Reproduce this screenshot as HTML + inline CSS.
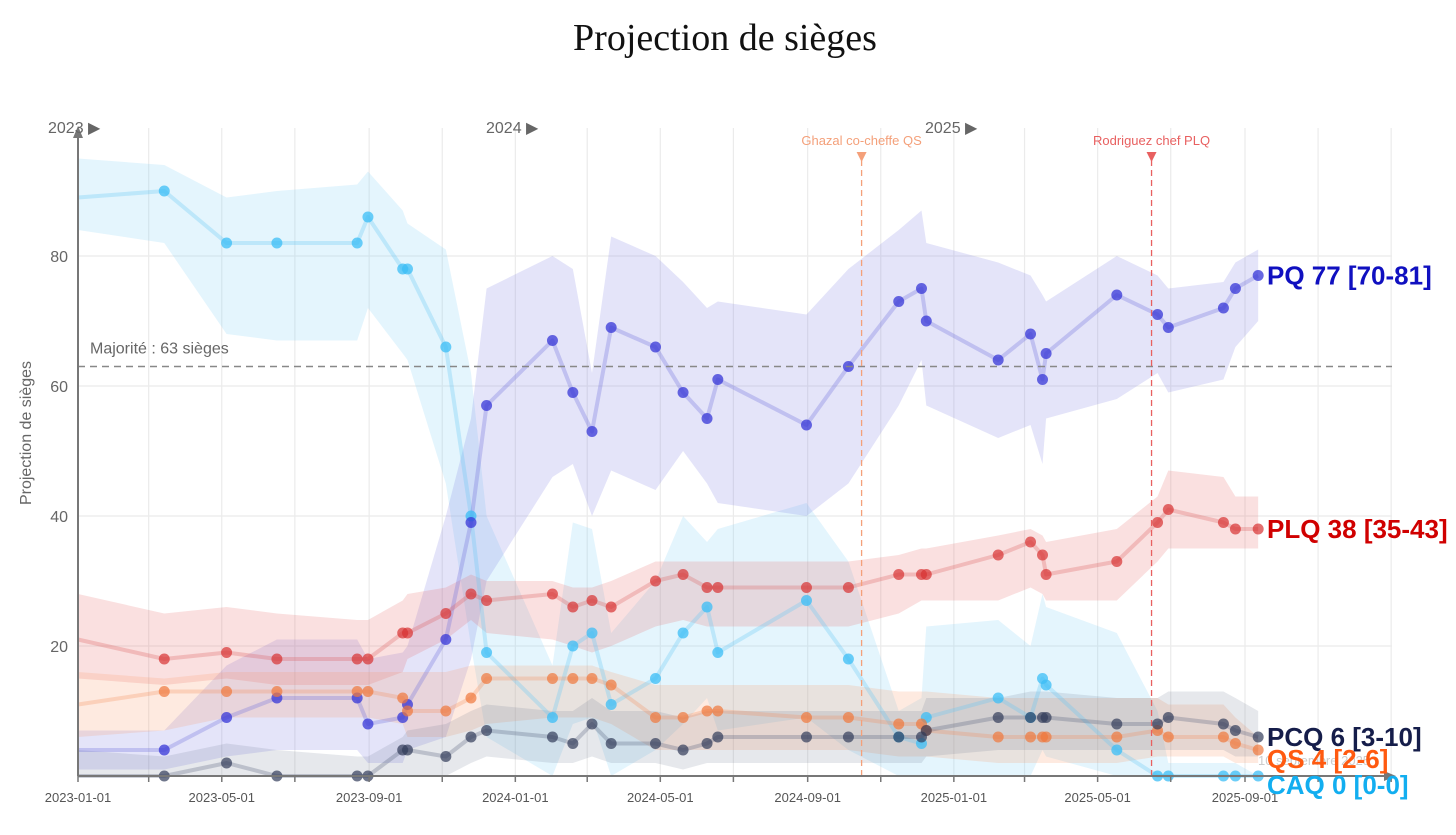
<!DOCTYPE html>
<html><head><meta charset="utf-8"><style>
html,body{margin:0;padding:0;background:#fff;width:1456px;height:835px;overflow:hidden}
svg{display:block;font-family:"Liberation Sans",sans-serif}
</style></head><body>
<svg id="chart" width="1456" height="835">
<text x="725" y="50" text-anchor="middle" font-family="Liberation Serif,serif" font-size="38" fill="#111">Projection de sièges</text>
<g id="grid"></g><g id="bands"></g><g id="lines"></g><g id="axes"></g><g id="labels"></g>
</svg>
<script>
const days=[0,72,124,166,233,242,271,275,307,328,341,396,413,429,445,482,505,525,534,608,643,685,704,708,768,795,805,808,867,901,910,956,966,985];
const pq=[4,4,9,12,12,8,9,11,21,39,57,67,59,53,69,66,59,55,61,54,63,73,75,70,64,68,61,65,74,71,69,72,75,77];
const pqLo=[1,1,3,4,4,2,2,4,6,18,30,46,48,40,47,44,50,45,42,40,45,57,64,57,52,54,48,55,58,62,59,61,66,70];
const pqHi=[7,7,17,21,21,18,19,20,40,55,75,80,78,62,83,80,76,72,73,71,78,84,87,82,79,77,74,73,80,77,75,76,79,81];
const plq=[21,18,19,18,18,18,22,22,25,28,27,28,26,27,26,30,31,29,29,29,29,31,31,31,34,36,34,31,33,39,41,39,38,38];
const plqLo=[15,14,15,14,14,14,16,18,21,24,22,21,20,19,20,23,24,23,23,23,23,25,27,27,27,29,28,27,27,33,35,35,35,35];
const plqHi=[28,25,26,25,24,24,27,28,29,31,30,30,29,29,30,33,33,33,33,33,33,34,35,35,37,38,37,36,38,43,47,46,43,43];
const caq=[89,90,82,82,82,86,78,78,66,40,19,9,20,22,11,15,22,26,19,27,18,6,5,9,12,9,15,14,4,0,0,0,0,0];
const caqLo=[84,82,68,67,67,72,65,64,45,20,6,0,8,9,0,4,8,12,7,9,4,0,0,0,0,0,4,3,0,0,0,0,0,0];
const caqHi=[95,94,89,90,91,93,87,85,81,62,40,17,39,38,22,30,40,36,38,42,33,10,12,23,24,20,28,26,22,10,2,2,2,0];
const qs=[11,13,13,13,13,13,12,10,10,12,15,15,15,15,14,9,9,10,10,9,9,8,8,7,6,6,6,6,6,7,6,6,5,4];
const qsLo=[6,7,9,9,9,9,8,6,6,7,8,9,9,9,8,4,4,4,4,4,4,3,3,3,2,2,2,2,2,3,3,3,2,2];
const qsHi=[16,15,16,16,16,16,16,16,16,17,17,17,17,17,16,14,14,14,14,14,14,13,13,13,12,12,12,12,12,12,11,11,9,6];
const pcq=[0,0,2,0,0,0,4,4,3,6,7,6,5,8,5,5,4,5,6,6,6,6,6,7,9,9,9,9,8,8,9,8,7,6];
const pcqLo=[0,0,0,0,0,0,0,0,0,2,3,2,2,3,2,2,1,2,2,2,2,2,2,3,4,4,4,4,4,4,4,4,3,3];
const pcqHi=[4,3,5,4,3,3,6,7,8,10,11,10,10,12,10,10,9,10,10,10,10,10,10,12,12,13,13,13,12,12,13,13,12,10];
const yTicks=[20,40,60,80];
const majority=63;
const events=[{d:654,label:"Ghazal co-cheffe QS",c:"#f4a07a"},{d:896,label:"Rodriguez chef PLQ",c:"#e86060"}];

const NS="http://www.w3.org/2000/svg";
const X0=78,X1=1245,Y0=776;
const x=d=>X0+d*(X1-X0)/974;
const y=v=>Y0-v*6.5;
function mk(tag,attrs,parent,txt){const e=document.createElementNS(NS,tag);for(const k in attrs)e.setAttribute(k,attrs[k]);if(txt!=null)e.textContent=txt;document.getElementById(parent).appendChild(e);return e;}

const base=new Date(Date.UTC(2023,0,1));
for(let m=0;m<=36;m+=2){const dt=new Date(Date.UTC(2023,m,1));const d=(dt-base)/864e5;const gx=x(d);if(gx>1395)break;
 const g=mk('line',{x1:gx,x2:gx,y1:128,y2:Y0,stroke:'#ebebeb','stroke-width':1.2},'grid');
 
 const t=mk('line',{x1:gx,x2:gx,y1:Y0,y2:Y0+6,stroke:'#777','stroke-width':1.5},'axes');
 
 if(m%4===0 && gx<=X1+2){const lab=`${dt.getUTCFullYear()}-${String(dt.getUTCMonth()+1).padStart(2,'0')}-01`;
  const tl=mk('text',{x:gx,y:802,'text-anchor':'middle','font-size':13,fill:'#555'},'axes',lab);
  }
}
yTicks.forEach(v=>{const g=mk('line',{x1:X0,x2:1392,y1:y(v),y2:y(v),stroke:'#ebebeb','stroke-width':1.2},'grid');
 
 const t=mk('text',{x:68,y:y(v)+6,'text-anchor':'end','font-size':16,fill:'#666'},'axes',v);
 });

const series=[
 {name:'caq',v:caq,lo:caqLo,hi:caqHi,band:'rgba(120,205,245,0.2)',line:'rgba(100,200,245,0.3)',dot:'rgba(60,190,245,0.75)'},
 {name:'pq',v:pq,lo:pqLo,hi:pqHi,band:'rgba(120,120,225,0.2)',line:'rgba(110,110,220,0.3)',dot:'rgba(55,55,215,0.75)'},
 {name:'plq',v:plq,lo:plqLo,hi:plqHi,band:'rgba(230,100,100,0.2)',line:'rgba(220,90,90,0.28)',dot:'rgba(215,50,50,0.7)'},
 {name:'qs',v:qs,lo:qsLo,hi:qsHi,band:'rgba(250,150,100,0.2)',line:'rgba(245,140,90,0.28)',dot:'rgba(240,120,60,0.7)'},
 {name:'pcq',v:pcq,lo:pcqLo,hi:pcqHi,band:'rgba(90,100,130,0.15)',line:'rgba(80,90,120,0.28)',dot:'rgba(50,60,90,0.7)'}];
series.forEach(s=>{
 let p=days.map((d,i)=>`${x(d)},${y(s.hi[i])}`).concat(days.map((d,i)=>`${x(d)},${y(s.lo[i])}`).reverse());
 const b=mk('polygon',{points:p.join(' '),fill:s.band},'bands');
 
 const l=mk('polyline',{points:days.map((d,i)=>`${x(d)},${y(s.v[i])}`).join(' '),fill:'none',stroke:s.line,'stroke-width':4,'stroke-linejoin':'round'},'lines');
 
});
series.forEach(s=>{days.forEach((d,i)=>{if(i===0)return;
 const c=mk('circle',{cx:x(d),cy:y(s.v[i]),r:5.5,fill:s.dot},'lines');
 });});

const mj=mk('line',{x1:X0,x2:1392,y1:y(majority),y2:y(majority),stroke:'#888','stroke-width':1.5,'stroke-dasharray':'7,5'},'axes');

const mt=mk('text',{x:90,y:y(majority)-13,'font-size':16,fill:'#666'},'axes','Majorité : '+majority+' sièges');


events.forEach(ev=>{const ex=x(ev.d);
 const l=mk('line',{x1:ex,x2:ex,y1:160,y2:Y0,stroke:ev.c,'stroke-width':1.3,'stroke-dasharray':'6,4'},'axes');
 
 const tr=mk('polygon',{points:`${ex-5},152 ${ex+5},152 ${ex},162`,fill:ev.c},'axes');
 
 const t=mk('text',{x:ex,y:145,'text-anchor':'middle','font-size':13,fill:ev.c},'axes',ev.label);
 });

const ya=mk('line',{x1:X0,x2:X0,y1:132,y2:Y0,stroke:'#777','stroke-width':2},'axes');

const yar=mk('polygon',{points:`${X0-5},138 ${X0+5},138 ${X0},126`,fill:'#777'},'axes');

const xa=mk('line',{x1:X0,x2:1390,y1:Y0,y2:Y0,stroke:'#777','stroke-width':2},'axes');

const xar=mk('polygon',{points:`1384,771 1384,781 1396,776`,fill:'#777'},'axes');

[['2023',48],['2024',486],['2025',925]].forEach(([t,px])=>{const e=mk('text',{x:px,y:133,'font-size':16,fill:'#666'},'axes',t+' ▶');
 });
const yt=mk('text',{x:31,y:433,'text-anchor':'middle','font-size':16,fill:'#666',transform:'rotate(-90 31 433)'},'axes','Projection de sièges');


const sd=mk('text',{x:1258,y:765,'font-size':13,fill:'#ccc'},'labels','10 septembre 2025');

const last=days.length-1;
[['PQ',pq,pqLo,pqHi,'#1010c0',0],['PLQ',plq,plqLo,plqHi,'#d00000',0],['PCQ',pcq,pcqLo,pcqHi,'#151d4a',0],['QS',qs,qsLo,qsHi,'#ff5a10',9],['CAQ',caq,caqLo,caqHi,'#12aef0',9]].forEach(([n,v,lo,hi,c,off])=>{
 const e=mk('text',{x:1267,y:y(v[last])+9+off,'font-size':26,'font-weight':'bold',fill:c},'labels',`${n} ${v[last]} [${lo[last]}-${hi[last]}]`);
 });
</script>
</body></html>
